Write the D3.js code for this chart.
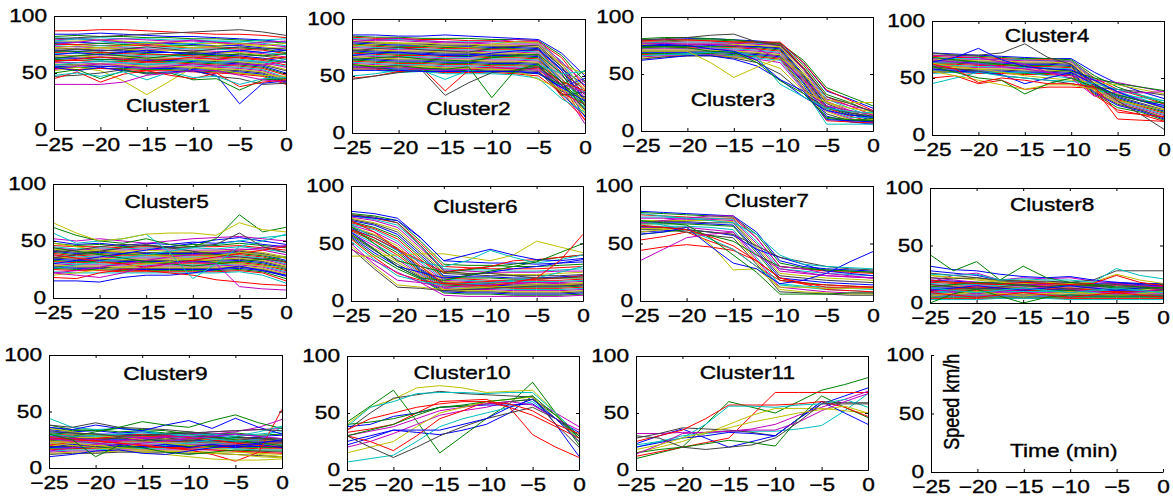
<!DOCTYPE html>
<html lang="en">
<head>
    <meta charset="UTF-8">
    <title>Speed profiles by cluster</title>
    <script src="https://d3js.org/d3.v7.min.js"></script>
    <style>
        body {
            margin: 0;
            background: #ffffff;
        }
        svg text {
            font-family: Arial, "Liberation Sans", sans-serif;
            fill: #000;
            stroke: #000;
            stroke-width: 0.35px;
        }
    </style>
</head>
<body>
<svg id="chart" width="1173" height="497"></svg>
<script>
// time axis (minutes before event), sampled every 2.5 min
const times = [-25, -22.5, -20, -17.5, -15, -12.5, -10, -7.5, -5, -2.5, 0];
const xTicks = [-25, -20, -15, -10, -5, 0];
const yTicks = [0, 50, 100];
const clusterNames = ["Cluster1", "Cluster2", "Cluster3", "Cluster4", "Cluster5", "Cluster6",
                      "Cluster7", "Cluster8", "Cluster9", "Cluster10", "Cluster11"];

// speed (km/h) of each profile, one row per profile
const cluster1 = [
    [84,84,85,84,83,82,82,81,80,79,77],
    [82,83,82,82,81,81,80,80,79,78,76],
    [87,87,88,88,87,86,85,84,84,83,81],
    [81,80,81,80,80,79,79,78,78,76,74],
    [79,80,79,80,79,78,78,77,76,75,73],
    [78,78,79,78,77,77,76,76,75,73,71],
    [80,81,82,83,84,85,86,87,88,86,83],
    [77,77,76,77,76,76,75,74,74,72,70],
    [76,75,76,75,75,74,74,73,72,71,68],
    [75,75,74,74,74,73,72,72,71,70,67],
    [74,73,74,73,72,72,71,71,70,68,66],
    [73,73,72,72,71,70,70,69,69,67,64],
    [72,71,72,71,70,70,69,68,68,66,63],
    [71,71,70,70,69,68,68,67,66,65,62],
    [70,69,70,69,68,68,67,66,65,63,60],
    [69,69,68,68,67,66,66,65,64,62,59],
    [68,67,68,67,66,66,65,64,63,61,57],
    [67,67,66,66,65,65,64,63,62,60,56],
    [66,65,66,65,64,63,63,62,61,59,55],
    [65,65,64,64,63,63,62,61,60,58,53],
    [64,63,64,63,62,62,61,60,59,57,52],
    [63,63,62,62,61,61,60,59,58,56,50],
    [62,61,62,61,60,60,59,58,57,55,49],
    [61,61,60,60,59,59,58,57,56,54,48],
    [60,59,60,59,58,58,57,56,55,53,46],
    [59,59,58,58,57,57,56,55,54,52,45],
    [58,57,58,57,56,56,55,54,53,51,44],
    [57,57,56,56,55,55,54,53,52,50,43],
    [56,55,56,55,54,54,53,52,51,49,42],
    [55,55,54,54,53,53,52,51,50,48,41],
    [54,53,54,53,52,52,51,50,49,47,40],
    [78,80,78,76,77,75,76,78,77,79,80],
    [75,77,79,77,75,77,79,77,75,77,78],
    [72,74,72,74,76,74,72,74,76,74,76],
    [69,71,69,71,73,71,69,71,73,71,72],
    [66,68,66,68,70,68,66,68,70,68,70],
    [63,65,67,65,63,65,67,65,67,65,67],
    [60,62,64,62,60,62,64,62,64,62,64],
    [57,59,61,59,57,59,61,59,61,59,62],
    [53,56,58,56,54,56,58,56,58,57,60],
    [52,55,52,43,31,43,55,53,50,48,47],
    [47,48,50,53,49,50,52,47,45,40,41],
    [55,52,55,52,50,51,52,48,23,41,43],
    [50,53,45,52,50,50,44,45,35,44,45],
    [45,51,42,49,52,48,45,50,38,42,44],
    [48,50,47,51,44,51,46,47,40,45,46],
    [40,40,40,42,48,50,52,52,48,44,42]
];

const cluster2 = [
    [86,86,85,85,86,85,84,83,82,70,50],
    [85,84,84,83,83,83,82,82,81,68,45],
    [84,83,83,82,82,81,81,80,80,66,40],
    [83,82,82,81,80,80,80,79,79,63,35],
    [82,81,81,80,79,79,78,78,78,61,30],
    [81,80,79,79,78,78,77,77,76,60,52],
    [80,79,78,78,77,77,76,76,75,58,27],
    [79,78,77,77,76,76,75,75,74,56,42],
    [78,77,76,76,75,75,74,74,73,55,24],
    [77,76,75,75,74,74,73,73,72,53,38],
    [76,75,74,74,73,73,72,72,71,52,20],
    [75,74,73,73,72,72,71,71,70,50,34],
    [74,73,72,72,71,71,70,70,69,48,17],
    [73,72,71,71,70,70,69,69,68,47,30],
    [72,71,70,70,69,69,68,68,67,45,14],
    [71,70,69,69,68,68,67,67,66,44,26],
    [70,69,68,68,67,67,66,66,65,42,11],
    [69,68,67,67,66,66,65,65,64,40,22],
    [68,67,66,66,65,65,64,64,63,39,8],
    [67,66,65,65,64,64,63,63,62,37,19],
    [66,65,64,64,63,63,62,62,61,36,46],
    [65,64,63,63,62,62,61,61,60,34,15],
    [64,63,62,62,61,61,60,60,59,33,36],
    [63,62,61,61,60,60,59,59,58,32,12],
    [62,61,60,60,59,59,58,58,57,40,28],
    [61,60,59,59,58,58,57,57,56,38,21],
    [60,59,58,58,57,57,56,56,55,35,16],
    [59,58,57,57,56,56,55,55,54,34,32],
    [58,57,56,56,55,55,54,54,53,40,48],
    [57,57,55,55,54,55,54,53,52,42,55],
    [56,56,54,54,53,53,53,52,50,35,25],
    [55,55,53,54,52,52,52,51,48,30,18],
    [80,82,83,81,80,79,80,82,81,62,44],
    [76,78,79,77,76,75,78,80,79,60,38],
    [72,74,75,73,72,71,74,76,77,58,33],
    [68,70,71,69,68,67,70,72,73,55,29],
    [64,66,67,65,64,63,66,68,69,52,23],
    [48,50,54,57,37,55,58,56,57,45,37],
    [50,52,55,55,47,55,53,55,60,52,54],
    [58,57,58,56,55,56,57,57,55,43,35],
    [60,59,58,59,57,57,56,55,47,38,30],
    [47,50,53,55,33,44,53,55,58,42,24],
    [55,55,55,54,54,54,54,54,52,40,28],
    [60,58,59,57,56,58,31,55,60,45,20]
];

const cluster3 = [
    [80,80,81,81,80,79,77,60,35,28,20],
    [79,79,80,80,79,78,76,58,32,25,16],
    [78,78,79,79,78,77,76,56,30,22,14],
    [77,78,78,78,77,77,75,55,28,20,12],
    [76,77,77,77,77,76,75,54,26,18,10],
    [76,76,76,76,76,75,74,52,25,17,15],
    [75,75,75,76,75,74,73,50,24,16,11],
    [74,75,74,75,74,74,72,49,22,15,9],
    [74,74,74,74,74,73,71,48,21,14,13],
    [73,73,73,73,73,72,70,47,20,13,8],
    [72,73,72,73,72,71,69,46,19,12,12],
    [72,72,72,72,71,70,68,45,18,11,7],
    [71,71,71,71,70,69,67,44,17,10,10],
    [70,70,70,70,69,68,66,43,15,9,9],
    [69,69,69,69,68,67,65,42,13,8,6],
    [68,68,68,68,67,66,64,40,11,9,11],
    [67,67,67,67,66,65,63,38,9,8,7],
    [66,67,67,67,66,64,62,37,6,6,6],
    [65,66,66,67,65,63,60,36,22,18,14],
    [64,65,66,66,65,62,55,35,25,20,17],
    [63,65,66,66,64,60,50,33,20,16,13],
    [62,64,66,66,63,57,45,30,18,14,12],
    [81,82,82,81,80,78,77,62,38,30,22],
    [79,80,80,79,78,78,78,60,36,27,18],
    [66,67,68,69,70,65,41,30,20,17,16],
    [77,77,76,76,75,72,63,45,28,22,18],
    [70,70,70,60,47,56,64,50,27,25,25],
    [80,81,82,84,85,78,75,55,30,24,17],
    [75,76,75,72,70,62,45,35,10,9,8],
    [73,74,73,70,69,60,44,33,12,10,9]
];

const cluster4 = [
    [72,71,70,69,68,67,67,55,45,38,32],
    [70,70,69,68,67,67,66,52,42,35,28],
    [69,68,68,67,66,66,65,50,40,34,27],
    [68,67,67,66,66,65,65,49,38,32,25],
    [67,66,66,66,65,65,64,48,37,31,24],
    [66,66,65,65,64,64,63,47,36,30,23],
    [65,65,64,64,63,63,62,45,34,28,22],
    [64,64,63,63,62,62,61,44,33,27,21],
    [63,63,62,62,61,61,60,43,32,26,20],
    [62,62,61,61,60,60,59,42,31,25,19],
    [61,61,60,60,59,59,58,41,30,24,18],
    [60,60,59,59,58,58,57,40,29,23,17],
    [59,59,58,58,57,57,56,39,28,22,16],
    [58,58,57,57,56,56,55,38,27,22,15],
    [57,57,56,56,55,55,54,37,26,21,14],
    [56,56,55,55,54,54,53,36,24,20,13],
    [55,55,54,54,53,53,52,35,22,18,12],
    [54,55,55,55,55,52,50,40,35,33,30],
    [66,64,62,60,58,55,52,48,46,42,38],
    [63,60,58,55,52,50,48,46,44,40,36],
    [60,58,56,52,50,48,45,42,40,38,35],
    [58,56,55,53,45,50,55,44,35,30,26],
    [68,66,64,62,60,58,56,50,45,42,39],
    [50,52,45,48,40,42,42,41,14,13,12],
    [45,50,55,52,50,48,47,45,40,35,30],
    [70,69,68,64,62,55,50,34,38,37,38],
    [56,52,48,44,40,44,44,40,30,26,22],
    [72,70,70,72,80,68,62,45,30,18,5],
    [64,68,76,66,60,58,57,48,38,30,24],
    [60,55,50,48,36,45,50,42,35,30,28],
    [62,58,46,50,48,45,45,42,20,18,16]
];

const cluster5 = [
    [50,47,48,46,48,47,49,48,50,47,45],
    [48,46,47,45,46,45,47,46,48,46,44],
    [46,45,45,44,45,44,45,45,46,44,42],
    [45,43,44,43,44,43,44,43,45,43,40],
    [44,42,43,42,43,42,42,42,43,42,38],
    [43,41,42,41,42,41,41,41,42,40,36],
    [42,40,41,40,40,40,40,40,41,39,35],
    [41,39,40,39,39,39,39,39,40,38,33],
    [40,38,39,38,38,38,38,38,39,37,32],
    [39,37,38,37,37,37,37,37,38,36,31],
    [38,36,37,36,36,36,36,36,37,35,30],
    [37,35,36,35,35,35,35,35,36,34,29],
    [36,35,35,34,34,34,34,34,35,33,28],
    [35,34,34,33,33,33,33,33,34,32,27],
    [34,33,33,32,32,32,32,32,33,31,26],
    [33,32,32,31,31,31,31,31,32,30,25],
    [32,31,31,30,30,30,30,30,31,29,24],
    [31,30,30,29,29,29,29,29,30,28,23],
    [30,29,29,28,28,28,28,28,29,27,22],
    [29,28,28,27,27,27,27,27,28,26,21],
    [28,27,27,26,26,26,26,26,27,25,20],
    [27,26,26,25,25,25,25,25,26,24,19],
    [26,25,25,24,24,24,24,24,25,23,17],
    [25,24,24,23,23,23,23,23,24,22,15],
    [23,22,22,22,22,22,22,22,23,20,13],
    [22,24,27,30,33,36,38,40,42,44,46],
    [48,45,42,40,38,36,34,32,30,28,27],
    [35,38,41,44,47,44,41,38,36,34,32],
    [30,33,36,39,42,45,48,51,53,50,47],
    [44,41,38,35,32,30,28,30,32,34,36],
    [38,35,32,30,27,30,33,36,39,42,45],
    [26,29,32,35,38,41,44,47,50,53,55],
    [52,50,52,50,48,50,52,53,54,52,50],
    [20,22,25,27,30,32,35,37,40,38,35],
    [40,42,45,47,46,44,45,47,57,45,40],
    [15,15,14,18,20,20,22,25,28,24,20],
    [62,55,50,48,52,47,45,52,73,58,62],
    [18,17,22,25,24,22,20,16,14,12,11],
    [57,48,50,52,56,40,17,30,45,50,56],
    [22,20,18,22,28,30,32,30,10,8,7],
    [66,57,50,52,56,57,57,55,66,60,58]
];

const cluster6 = [
    [78,76,72,55,35,34,33,33,32,33,34],
    [76,74,70,52,32,31,31,30,30,31,32],
    [75,72,68,50,30,29,28,28,28,29,30],
    [74,71,66,48,28,27,27,26,26,27,28],
    [73,70,64,46,27,26,25,25,25,26,26],
    [72,68,62,44,25,24,24,23,23,24,25],
    [71,67,60,42,24,23,22,22,22,22,23],
    [70,66,58,40,22,21,21,20,20,21,22],
    [69,64,56,38,21,20,20,19,19,20,20],
    [68,63,54,36,20,19,18,18,18,18,19],
    [67,62,52,34,19,18,17,17,17,17,18],
    [66,60,50,32,18,17,16,16,16,16,17],
    [65,58,48,30,17,16,15,15,15,15,16],
    [64,57,46,28,16,15,15,14,14,14,15],
    [63,55,44,27,15,14,14,13,13,13,14],
    [62,53,42,26,14,13,13,12,12,12,13],
    [61,52,40,25,13,12,12,11,11,11,12],
    [60,50,38,24,12,11,11,10,10,10,11],
    [59,48,36,23,11,10,10,9,9,9,10],
    [58,46,34,22,10,9,9,8,8,8,9],
    [57,44,32,21,9,8,8,7,7,7,8],
    [56,42,30,20,8,7,7,6,6,6,7],
    [55,40,28,19,7,6,6,5,5,5,6],
    [54,38,24,18,15,16,17,18,19,20,22],
    [52,36,22,17,14,15,16,18,20,25,30],
    [50,32,18,16,12,13,14,15,16,15,14],
    [48,30,14,12,10,11,12,13,14,14,15],
    [46,28,12,11,9,10,11,12,13,13,14],
    [60,45,30,25,20,22,25,28,30,33,36],
    [65,50,35,30,25,27,30,32,35,38,40],
    [70,60,45,35,25,28,30,35,36,38,40],
    [66,55,44,34,30,35,44,38,33,36,40],
    [45,35,25,16,5,4,4,4,4,4,5],
    [39,39,40,41,41,38,35,40,52,47,42],
    [75,73,68,48,26,24,24,22,20,20,21],
    [74,72,70,55,35,40,45,40,36,35,37],
    [58,45,30,20,18,22,26,30,34,42,50],
    [62,55,45,30,15,14,13,16,20,35,58]
];

const cluster7 = [
    [78,77,76,75,74,60,35,30,28,27,26],
    [77,76,75,74,73,58,33,29,27,26,25],
    [75,74,73,72,72,55,30,28,26,25,24],
    [73,73,72,72,71,52,28,26,24,23,22],
    [72,72,71,71,70,50,26,24,22,21,20],
    [70,70,70,70,69,48,24,22,20,19,18],
    [69,69,69,68,68,46,22,20,18,17,16],
    [68,68,68,67,66,44,20,18,16,15,14],
    [67,67,67,66,65,42,18,16,14,13,12],
    [53,56,60,52,45,30,18,15,14,13,12],
    [65,65,65,64,62,38,14,12,10,9,8],
    [64,64,64,62,60,36,12,10,8,7,7],
    [63,63,62,60,58,34,10,8,7,6,6],
    [62,62,60,57,55,32,8,7,6,5,5],
    [60,61,62,60,57,45,38,32,26,24,22],
    [58,60,62,57,52,40,30,28,27,26,25],
    [44,47,49,47,44,35,20,15,10,9,8],
    [70,66,62,54,45,30,15,13,12,11,10],
    [68,70,72,74,74,55,30,28,24,22,20],
    [60,62,64,50,27,28,12,12,11,11,11],
    [65,64,62,60,58,48,38,34,30,28,27],
    [58,60,64,48,33,28,15,18,24,34,43],
    [70,68,66,55,40,25,6,6,6,7,7],
    [66,64,62,56,48,35,20,16,12,12,12],
    [76,74,72,70,68,58,40,32,30,29,28],
    [35,45,55,58,60,40,28,25,22,21,20]
];

const cluster8 = [
    [20,19,18,18,17,17,16,16,17,16,15],
    [19,18,17,17,16,16,15,15,16,15,14],
    [18,17,16,16,15,15,15,14,15,14,14],
    [17,16,16,15,15,14,14,14,14,13,13],
    [16,15,15,14,14,14,13,13,13,13,12],
    [15,15,14,14,13,13,13,12,12,12,12],
    [14,14,13,13,13,12,12,12,12,11,11],
    [13,13,13,12,12,12,11,11,11,11,10],
    [12,12,12,12,11,11,11,10,10,10,10],
    [11,11,11,11,11,10,10,10,10,9,9],
    [10,10,10,10,10,10,9,9,9,9,9],
    [9,9,9,9,9,9,9,8,8,8,8],
    [8,8,8,8,8,8,8,8,8,7,7],
    [7,7,7,7,7,7,7,7,7,7,7],
    [6,6,6,6,6,6,6,6,6,6,6],
    [5,5,5,5,5,5,5,5,5,5,5],
    [4,4,4,4,4,4,4,4,4,4,4],
    [3,3,3,4,4,4,3,3,3,3,3],
    [22,20,18,17,16,16,15,15,16,16,15],
    [24,22,20,18,17,17,16,16,17,16,16],
    [26,24,22,19,18,17,17,16,17,17,16],
    [28,26,24,20,19,18,18,17,18,17,17],
    [14,16,18,17,15,14,16,15,13,12,14],
    [10,12,14,13,11,12,13,11,9,10,12],
    [8,10,9,11,13,11,9,10,12,11,9],
    [12,10,8,10,12,14,12,10,8,10,12],
    [6,8,10,8,6,8,10,8,6,8,10],
    [16,14,12,14,16,14,12,14,16,14,12],
    [11,13,15,13,11,13,15,13,11,13,15],
    [0,8,12,6,0,5,7,6,6,6,6],
    [9,7,5,7,9,7,5,7,9,7,5],
    [13,11,9,11,13,11,9,11,13,11,9],
    [18,24,26,20,22,21,22,19,17,15,14],
    [24,22,21,19,20,18,17,18,25,20,17],
    [22,21,22,20,19,19,18,20,28,28,28],
    [32,29,28,25,23,22,23,20,18,16,15],
    [42,28,36,20,32,22,18,16,14,14,13],
    [20,18,17,16,18,17,16,17,24,18,15],
    [25,24,25,20,21,20,20,18,30,24,21]
];

const cluster9 = [
    [32,31,30,30,29,29,28,28,27,27,26],
    [31,30,30,29,29,28,28,27,27,26,26],
    [30,29,29,28,28,28,27,27,26,26,25],
    [29,28,28,28,27,27,27,26,26,25,25],
    [28,28,27,27,27,26,26,26,25,25,24],
    [27,27,27,26,26,26,25,25,25,24,24],
    [26,26,26,26,25,25,25,24,24,24,23],
    [25,25,25,25,25,24,24,24,23,23,23],
    [24,24,24,24,24,24,23,23,23,22,22],
    [23,23,23,23,23,23,23,22,22,22,22],
    [22,22,22,22,22,22,22,22,21,21,21],
    [21,21,21,21,21,21,21,21,21,20,20],
    [20,20,20,20,20,20,20,20,20,20,19],
    [19,19,19,19,19,20,20,20,20,19,19],
    [18,18,18,19,19,19,19,19,19,19,18],
    [17,17,18,18,18,18,19,19,18,18,18],
    [16,17,17,17,18,18,18,18,18,17,17],
    [15,16,16,17,17,17,17,17,17,16,16],
    [14,15,15,16,16,16,16,16,15,15,14],
    [13,14,14,15,15,15,15,14,14,13,12],
    [12,13,13,14,14,14,13,13,12,11,10],
    [34,32,33,31,32,30,31,29,30,28,29],
    [36,33,34,32,33,31,32,30,31,29,30],
    [20,23,26,28,30,29,27,25,22,20,18],
    [28,25,22,20,18,20,22,25,28,30,32],
    [15,18,21,24,26,28,30,32,33,34,35],
    [35,32,29,27,25,22,20,18,15,12,10],
    [24,27,24,27,24,27,24,27,24,27,24],
    [18,21,18,21,18,21,18,21,18,21,18],
    [38,34,33,35,34,33,30,28,25,22,20],
    [25,26,24,22,20,18,16,12,6,14,52],
    [44,36,34,35,33,30,28,26,24,25,36],
    [28,26,25,24,26,27,28,30,32,36,43],
    [22,20,18,16,14,12,10,8,7,7,8],
    [38,36,40,36,35,34,32,30,28,26,24],
    [36,34,38,35,33,38,42,35,44,36,30],
    [30,28,32,36,41,38,36,42,47,40,35],
    [27,25,24,22,20,18,17,16,15,14,13],
    [30,28,29,30,31,30,29,30,28,32,37],
    [26,24,22,20,22,24,26,28,30,28,26],
    [24,22,20,18,16,15,14,13,12,10,9],
    [33,31,30,28,29,30,31,32,33,34,33],
    [10,12,15,16,13,12,15,18,20,22,25],
    [30,25,10,20,18,14,12,14,16,15,15]
];

const cluster10 = [
    [22,28,35,33,31,35,40,50,65,40,12],
    [42,56,70,43,15,30,45,58,77,50,22],
    [33,36,40,50,60,61,62,55,31,20,11],
    [7,10,13,25,38,45,50,55,60,45,28],
    [20,25,32,40,48,52,55,60,62,50,38],
    [40,55,62,72,74,72,68,69,70,50,25],
    [35,50,63,66,69,67,66,65,64,40,20],
    [38,40,47,50,55,56,57,57,58,45,33],
    [40,42,45,50,55,56,58,60,62,48,28],
    [30,25,17,30,45,52,60,55,48,38,28],
    [38,55,60,67,68,68,67,68,68,50,30],
    [30,34,38,45,52,55,58,60,57,45,35],
    [15,20,25,38,50,55,60,62,64,45,25],
    [30,20,11,20,30,38,45,50,55,45,30],
    [25,30,35,35,35,40,45,55,62,45,25],
    [30,35,40,48,55,57,60,62,65,48,30],
    [35,45,50,55,58,60,60,58,52,40,32]
];

const cluster11 = [
    [23,30,36,28,20,25,30,45,58,65,72],
    [10,15,20,40,60,55,50,60,70,75,81],
    [12,16,20,24,28,48,68,68,68,68,68],
    [20,25,30,32,34,34,34,36,39,52,67],
    [32,32,33,33,34,36,40,48,55,62,69],
    [15,20,25,32,40,48,54,54,54,52,50],
    [28,32,37,36,35,33,30,45,60,59,59],
    [20,24,28,30,33,32,30,45,60,50,40],
    [15,18,20,23,26,24,21,45,65,55,46],
    [25,30,35,45,57,57,57,58,60,55,47],
    [22,25,28,40,56,56,55,57,58,62,55],
    [14,22,32,33,34,35,35,42,52,60,67],
    [18,22,28,33,37,42,46,50,53,56,50],
    [30,28,20,18,20,22,28,42,58,58,58]
];

const clusters = [cluster1, cluster2, cluster3, cluster4, cluster5, cluster6,
                  cluster7, cluster8, cluster9, cluster10, cluster11];

// old MATLAB colour order
const colorOrder = ["#0000ff", "#008000", "#ff0000", "#00bfbf", "#bf00bf", "#bfbf00", "#404040"];

// panel boxes: left, top, right, bottom (px)
const boxes = [
    [54, 16, 286, 130], [352, 19, 585, 133], [641, 17, 873, 131], [932, 21, 1164, 135],
    [53, 184, 286, 298], [351, 186, 583, 301], [640, 186, 873, 301], [930, 188, 1163, 303],
    [49, 355, 282, 468], [347, 356, 579, 470], [636, 356, 868, 470], [931, 355, 1163, 472]
];
// title anchor in data units (time, speed)
const titlePos = [
    [-12.7, 16], [-12.5, 16], [-15.1, 22], [-12.6, 82], [-12.8, 79], [-11.6, 76.5],
    [-11.4, 81.5], [-11.9, 80], [-12.5, 78], [-12.6, 80], [-13.0, 80]
];

const SX = 1.26;   // the source picture is stretched horizontally
const FONT = "Arial, 'Liberation Sans', sans-serif";
const svg = d3.select("#chart");

function drawPanel(i) {
    const [x0, y0, x1, y1] = boxes[i];
    const w = x1 - x0, h = y1 - y0;
    const x = d3.scaleLinear().domain([-25, 0]).range([0, w]);
    const y = d3.scaleLinear().domain([0, 100]).range([h, 0]);
    const g = svg.append("g").attr("transform", `translate(${x0},${y0})`);
    const last = i === 11;

    if (!last) {
        const clipId = "clip" + i;
        g.append("clipPath").attr("id", clipId)
            .append("rect").attr("width", w).attr("height", h);
        const line = d3.line().x((d, k) => x(times[k])).y(d => y(d));
        g.append("g").attr("clip-path", `url(#${clipId})`)
            .selectAll("path")
            .data(clusters[i])
            .join("path")
            .attr("d", line)
            .attr("fill", "none")
            .attr("stroke", (d, k) => colorOrder[k % 7])
            .attr("stroke-width", 1);
    }

    // axes, ticks pointing inwards
    const left = g.append("g").call(d3.axisLeft(y).tickValues(yTicks).tickSizeInner(-3).tickSizeOuter(0));
    const bottom = g.append("g").attr("transform", `translate(0,${h})`)
        .call(d3.axisBottom(x).tickValues(xTicks).tickSizeInner(-3).tickSizeOuter(0));
    if (!last) {
        g.append("g").call(d3.axisTop(x).tickValues(xTicks).tickSizeInner(-3).tickSizeOuter(0).tickFormat(""));
        g.append("g").attr("transform", `translate(${w},0)`)
            .call(d3.axisRight(y).tickValues(yTicks).tickSizeInner(-3).tickSizeOuter(0).tickFormat(""));
    }
    g.selectAll(".domain, .tick line").attr("stroke", "#000").attr("stroke-width", 1);

    left.selectAll(".tick text")
        .attr("x", -7 / SX).attr("dy", "0.33em")
        .attr("transform", `scale(${SX},1)`)
        .style("font-size", "18px").style("font-family", FONT);
    bottom.selectAll(".tick text")
        .attr("y", 21).attr("dy", "0")
        .attr("transform", `scale(${SX},1)`)
        .style("font-size", "18px").style("font-family", FONT);
    g.selectAll(".tick text").attr("fill", "#000");

    if (!last) {
        const [tx, ty] = titlePos[i];
        g.append("text")
            .attr("transform", `translate(${x(tx)},${y(ty)}) scale(${SX},1)`)
            .attr("text-anchor", "middle")
            .style("font-size", "18px")
            .text(clusterNames[i]);
    } else {
        g.append("text")
            .attr("transform", `translate(${x(-22.8)},${y(60)}) scale(${SX},1) rotate(-90)`)
            .attr("text-anchor", "middle")
            .attr("dy", "0.35em")
            .style("font-size", "18px")
            .text("Speed km/h");
        g.append("text")
            .attr("transform", `translate(${x(-10.7)},${y(12.7)}) scale(${SX},1)`)
            .attr("text-anchor", "middle")
            .style("font-size", "18px")
            .text("Time (min)");
    }
}

for (let i = 0; i < 12; i++) drawPanel(i);
</script>
</body>
</html>
